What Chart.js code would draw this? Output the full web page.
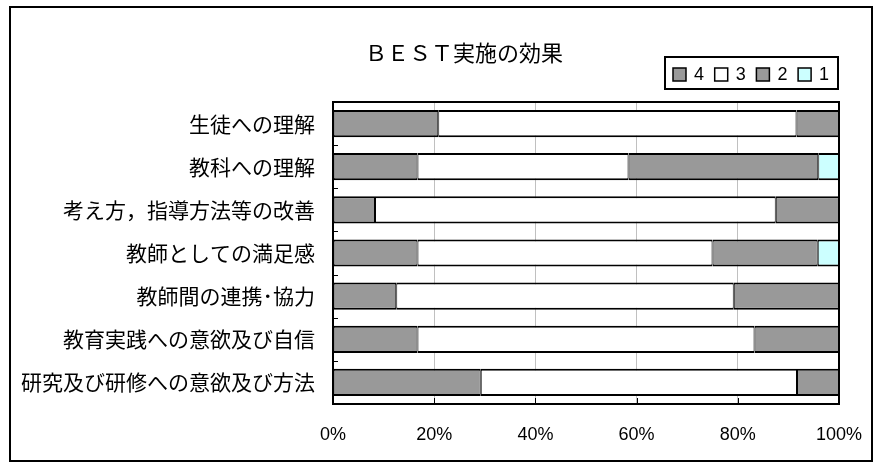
<!DOCTYPE html>
<html>
<head>
<meta charset="utf-8">
<script src="https://cdn.jsdelivr.net/npm/chart.js@4/dist/chart.umd.min.js"></script>
<style>
  html, body { margin: 0; padding: 0; background: #fff; }
  #wrap { width: 876px; height: 462px; }
</style>
</head>
<body>
<div id="wrap"><canvas id="chart" width="876" height="462"></canvas></div>
<script>
var chartTitle = 'ＢＥＳＴ実施の効果';
var categories = [
  '生徒への理解',
  '教科への理解',
  '考え方，指導方法等の改善',
  '教師としての満足感',
  '教師間の連携･協力',
  '教育実践への意欲及び自信',
  '研究及び研修への意欲及び方法'
];
var seriesNames = ['4', '3', '2', '1'];
var seriesColors = ['#999999', '#ffffff', '#999999', '#ccffff'];
// percent of answers per rating
var s4 = [20.8, 16.7, 8.3, 16.7, 12.5, 16.7, 29.2];
var s3 = [70.8, 41.7, 79.2, 58.3, 66.7, 66.6, 62.5];
var s2 = [8.4, 37.5, 12.5, 20.8, 20.8, 16.7, 8.3];
var s1 = [0, 4.1, 0, 4.2, 0, 0, 0];
var xTicks = [0, 20, 40, 60, 80, 100];

var cjk = '"Noto Sans CJK JP", sans-serif';

// outer frame, plot border, inner tick marks, title and the boxed legend
var decor = {
  id: 'decor',
  afterDraw: function (chart) {
    var ctx = chart.ctx;
    var a = chart.chartArea;
    var xs = chart.scales.x;
    var ys = chart.scales.y;
    ctx.save();
    ctx.strokeStyle = '#000';

    // short inward ticks: category boundaries on the left, values on the bottom
    ctx.lineWidth = 1;
    ctx.beginPath();
    for (var i = 1; i < categories.length; i++) {
      var y = Math.round((ys.getPixelForValue(i - 1) + ys.getPixelForValue(i)) / 2) + 0.5;
      ctx.moveTo(a.left, y);
      ctx.lineTo(a.left + 5, y);
    }
    xTicks.forEach(function (v) {
      var x = Math.round(xs.getPixelForValue(v)) + 0.5;
      ctx.moveTo(x, a.bottom);
      ctx.lineTo(x, a.bottom - 6);
    });
    ctx.stroke();

    ctx.lineWidth = 2;
    ctx.strokeRect(10, 7, 862, 454);
    ctx.strokeRect(a.left, a.top, a.right - a.left, a.bottom - a.top);

    ctx.fillStyle = '#000';
    ctx.font = '22px ' + cjk;
    ctx.textAlign = 'center';
    ctx.textBaseline = 'middle';
    ctx.fillText(chartTitle, 464, 53);

    // legend box
    ctx.lineWidth = 2;
    ctx.strokeRect(665, 57, 173, 32);
    ctx.font = '18px "Liberation Sans Narrow", "Liberation Sans", sans-serif';
    ctx.textAlign = 'left';
    chart.data.datasets.forEach(function (ds, i) {
      var x = 673 + i * 41.7;
      ctx.fillStyle = ds.backgroundColor;
      ctx.fillRect(x, 68, 13, 13);
      ctx.lineWidth = 1.5;
      ctx.strokeRect(x, 68, 13, 13);
      ctx.fillStyle = '#000';
      ctx.fillText(ds.label, x + 21, 75);
    });
    ctx.restore();
  }
};

var values = [s4, s3, s2, s1];
var datasets = seriesNames.map(function (name, i) {
  return {
    label: name,
    data: values[i],
    backgroundColor: seriesColors[i],
    borderColor: '#000',
    borderWidth: { top: 2, bottom: 2, left: 1, right: 1 },
    borderSkipped: false,
    barPercentage: 0.63,
    categoryPercentage: 1
  };
});

new Chart(document.getElementById('chart'), {
  type: 'bar',
  data: { labels: categories, datasets: datasets },
  options: {
    responsive: false,
    animation: false,
    indexAxis: 'y',
    layout: { padding: { top: 102, right: 37, left: 0, bottom: 0 } },
    plugins: {
      legend: { display: false },
      title: { display: false },
      tooltip: { enabled: false }
    },
    scales: {
      x: {
        stacked: true,
        min: 0,
        max: 100,
        afterBuildTicks: function (scale) {
          scale.ticks = xTicks.map(function (v) { return { value: v }; });
        },
        afterFit: function (scale) {
          scale.height = 58;
          scale.paddingLeft = 0;
          scale.paddingRight = 0;
        },
        ticks: {
          color: '#000',
          padding: 20,
          font: { family: '"Liberation Sans", Arial, sans-serif', size: 18 },
          callback: function (v) { return v + '%'; }
        },
        grid: { color: '#c0c0c0', lineWidth: 1, drawTicks: false },
        border: { display: false }
      },
      y: {
        stacked: true,
        afterFit: function (scale) { scale.width = 333; },
        ticks: {
          color: '#000',
          padding: 18,
          font: { family: cjk, size: 21 }
        },
        grid: { display: false, drawTicks: false },
        border: { display: false }
      }
    }
  },
  plugins: [decor]
});
</script>
</body>
</html>
